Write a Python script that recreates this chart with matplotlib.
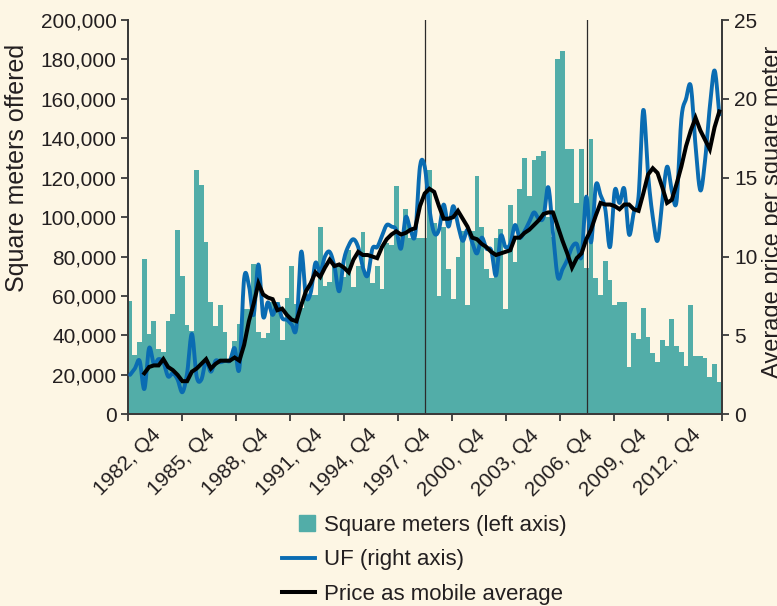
import numpy as np
import matplotlib
matplotlib.use("Agg")
import matplotlib.pyplot as plt
import matplotlib.patches as mpatches
from matplotlib.lines import Line2D
from matplotlib.legend_handler import HandlerPatch
from matplotlib.ticker import FuncFormatter

plt.rcParams['font.family'] = ['Liberation Sans', 'DejaVu Sans']

# quarterly data, 1982 Q4 .. 2013 Q4
sqm_thousands = [
    57.5, 30.1, 36.7, 78.8, 40.7, 47.3, 33.1, 31.6, 47.3, 50.9,
    93.5, 70.2, 45.3, 42.3, 123.9, 116.3, 87.4, 56.9, 44.8, 55.4,
    41.7, 27.5, 37.2, 45.8, 53.4, 53.4, 76.2, 41.7, 38.7, 41.2,
    56.9, 56.9, 37.7, 59.0, 75.2, 55.9, 54.0, 61.0, 60.5, 60.5,
    95.0, 65.2, 67.2, 75.0, 75.0, 69.5, 83.3, 64.7, 75.0, 92.5,
    71.5, 66.8, 75.2, 63.7, 86.7, 85.9, 115.8, 90.0, 104.0, 89.2,
    89.2, 89.5, 89.3, 124.0, 97.0, 60.0, 95.0, 73.8, 58.5, 79.7,
    93.0, 55.4, 93.0, 120.9, 95.0, 73.7, 69.3, 89.3, 93.8, 53.4,
    106.2, 77.2, 114.3, 130.0, 110.8, 128.9, 131.1, 133.6, 100.0, 90.0,
    180.2, 184.3, 134.5, 134.5, 107.3, 134.5, 74.0, 139.6, 69.3, 60.5,
    77.8, 68.1, 55.4, 56.9, 56.9, 23.9, 41.2, 38.2, 53.9, 39.2,
    31.0, 26.4, 37.7, 34.6, 48.3, 34.6, 31.6, 24.5, 55.4, 29.5,
    29.5, 28.5, 18.8, 25.4, 16.3,
]

uf_price = [
    2.5, 2.9, 3.4, 1.6, 4.2, 3.2, 3.5, 3.3, 2.4, 2.6,
    2.2, 1.4, 2.6, 5.1, 2.4, 2.2, 3.4, 2.7, 3.4, 3.3,
    3.4, 3.4, 4.2, 2.9, 8.6, 8.2, 6.3, 9.5, 6.2, 7.1,
    6.3, 7.0, 6.1, 6.0, 5.7, 5.5, 10.3, 7.5, 7.7, 9.6,
    9.0, 10.0, 10.3, 9.4, 7.8, 9.8, 10.7, 11.1, 10.6, 9.3,
    8.8, 10.5, 10.6, 11.3, 12.0, 11.9, 11.7, 10.5, 12.5, 11.7,
    11.4, 15.7, 15.7, 13.0, 11.5, 11.7, 13.3, 11.9, 13.2, 12.0,
    11.0, 11.7, 10.9, 10.2, 11.2, 10.5, 10.4, 8.8, 11.3, 10.6,
    10.8, 12.0, 11.2, 11.6, 12.2, 12.8, 12.4, 12.5, 14.4, 11.5,
    8.7, 9.2, 9.8, 10.6, 10.8, 10.0, 13.8, 10.9, 14.5, 13.9,
    13.0, 10.6, 14.2, 13.4, 14.3, 11.4, 12.8, 13.8, 19.3, 15.2,
    12.5, 11.0, 13.5, 15.7, 14.2, 13.5, 18.7, 20.0, 20.8, 17.0,
    14.2, 16.1, 19.5, 21.8, 19.0,
]

# moving average starts at the 4th quarter
avg_start = 3
avg_price = [
    2.6, 3.0, 3.1, 3.1, 3.5, 3.0, 2.8, 2.5, 2.1, 2.1,
    2.7, 2.9, 3.2, 3.5, 2.9, 3.2, 3.4, 3.4, 3.4, 3.6,
    3.4, 4.4, 5.9, 7.0, 8.3, 7.6, 7.4, 7.3, 6.6, 6.7,
    6.3, 6.0, 5.9, 6.9, 7.8, 8.3, 9.0, 8.7, 9.3, 9.8,
    9.4, 9.5, 9.3, 9.0, 9.8, 10.3, 10.1, 10.1, 10.0, 9.9,
    10.6, 11.1, 11.4, 11.6, 11.4, 11.5, 11.7, 11.8, 13.2, 14.0,
    14.3, 14.1, 13.2, 12.4, 12.4, 12.5, 12.9, 12.4, 11.9, 11.2,
    11.1, 10.8, 10.6, 10.3, 10.1, 10.2, 10.3, 10.4, 11.2, 11.2,
    11.5, 11.7, 12.0, 12.3, 12.7, 12.8, 12.8, 11.9, 11.0, 10.2,
    9.3, 9.9, 10.2, 11.1, 11.7, 12.6, 13.4, 13.3, 13.3, 13.2,
    13.0, 13.3, 13.3, 13.0, 12.9, 14.0, 15.2, 15.6, 15.3, 14.4,
    13.4, 13.6, 14.6, 15.7, 17.0, 18.0, 18.8, 18.0, 17.4, 16.8,
    18.2, 19.2,
]

tick_labels = ['1982, Q4', '1985, Q4', '1988, Q4', '1991, Q4', '1994, Q4', '1997, Q4',
               '2000, Q4', '2003, Q4', '2006, Q4', '2009, Q4', '2012, Q4']
break_quarters = [62.5, 96.6]

BG = '#fdf6e4'
TEAL = '#52ada8'
BLUE = '#0a6cb2'
TXT = '#231f20'
AXC = '#3a3a3a'


def smooth(x, y, n=12):
    """Catmull-Rom curve through the points"""
    x = np.asarray(x, float)
    y = np.asarray(y, float)
    xp = np.concatenate([[2 * x[0] - x[1]], x, [2 * x[-1] - x[-2]]])
    yp = np.concatenate([[2 * y[0] - y[1]], y, [2 * y[-1] - y[-2]]])
    t = np.linspace(0, 1, n, endpoint=False)[:, None]

    def seg(p):
        p0, p1, p2, p3 = p[:-3], p[1:-2], p[2:-1], p[3:]
        c = 0.5 * (2 * p1 + (-p0 + p2) * t + (2 * p0 - 5 * p1 + 4 * p2 - p3) * t ** 2
                   + (-p0 + 3 * p1 - 3 * p2 + p3) * t ** 3)
        return np.append(c.T.ravel(), p[-2])

    return seg(xp), seg(yp)


n = len(sqm_thousands)
xq = np.arange(n) + 0.5

fig = plt.figure(figsize=(7.77, 6.06), dpi=100, facecolor=BG)
ax = fig.add_axes([127.7 / 777, 1 - 414.3 / 606, 594 / 777, 394.3 / 606])
ax.set_facecolor(BG)

ax.bar(xq, np.array(sqm_thousands) * 1000, width=1.0, color=TEAL, linewidth=0, zorder=1)
for b in break_quarters:
    ax.axvline(b, color='#2b2b2b', lw=0.9, zorder=2)

ax.set_xlim(0, n)
ax.set_ylim(0, 200000)
ax.set_yticks(np.arange(0, 200001, 20000))
ax.yaxis.set_major_formatter(FuncFormatter(lambda v, p: f'{int(v):,}'))

ticks = np.linspace(0, n, 12)
ax.set_xticks(ticks)
ax.set_xticklabels(tick_labels + [''], rotation=45, ha='center', va='top',
                   fontsize=15, color=TXT)

ax2 = ax.twinx()
ax2.set_ylim(0, 25)
ax2.set_yticks(np.arange(0, 26, 5))

sx, sy = smooth(xq, uf_price)
ax2.plot(sx, sy, color=BLUE, lw=2.8, solid_capstyle='round', zorder=3)
ax2.plot(xq[avg_start:], avg_price, color='black', lw=2.9, solid_joinstyle='miter', zorder=4)

for a in (ax, ax2):
    for s in a.spines.values():
        s.set_color(AXC)
        s.set_linewidth(1.3)
    a.spines['top'].set_visible(False)
    a.tick_params(colors=AXC, labelcolor=TXT, labelsize=15, width=1.3, length=5, direction='out')

ax.tick_params(axis='x', labelsize=15, pad=3)
ax.tick_params(axis='y', pad=3)
ax2.tick_params(axis='y', pad=4)

fig.text(17 / 777, 1 - 168 / 606, 'Square meters offered', rotation=90,
         ha='center', va='center', fontsize=18, color=TXT)
fig.text(773 / 777, 1 - 212 / 606, 'Average price per square meter', rotation=90,
         ha='center', va='center', fontsize=17, color=TXT)


def square_patch(legend, orig_handle, xdescent, ydescent, width, height, fontsize):
    s = height * 1.05
    return mpatches.Rectangle((width - xdescent - s, -ydescent + (height - s) / 2), s, s)


handles = [mpatches.Patch(color=TEAL),
           Line2D([], [], color=BLUE, lw=2.8),
           Line2D([], [], color='black', lw=2.9)]
labels = ['Square meters (left axis)', 'UF (right axis)', 'Price as mobile average']
fig.legend(handles, labels, loc='upper left', bbox_to_anchor=(282 / 777, 1 - 515 / 606),
           frameon=False, fontsize=16, handlelength=1.5, handletextpad=0.4,
           labelspacing=0.6, borderpad=0, borderaxespad=0, labelcolor=TXT,
           handler_map={mpatches.Patch: HandlerPatch(patch_func=square_patch)})

fig.savefig('out.png', dpi=100, facecolor=BG)
